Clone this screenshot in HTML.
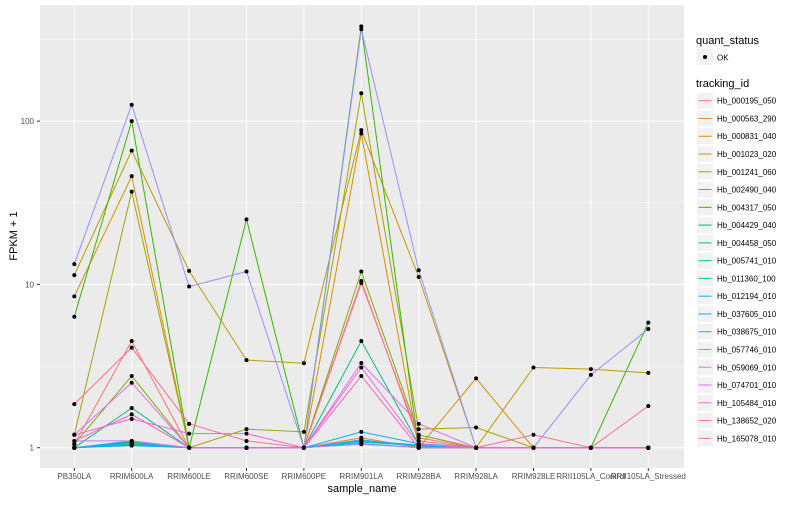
<!DOCTYPE html>
<html><head><meta charset="utf-8">
<style>
body{margin:0;background:#fff;}
svg{font-family:"Liberation Sans",sans-serif;}
</style></head>
<body>
<svg id="chart" width="800" height="500" xmlns="http://www.w3.org/2000/svg">
<rect x="0" y="0" width="800" height="500" fill="#fff"/>
<rect x="40" y="5" width="644" height="463" fill="#EBEBEB"/>
<g id="grid"></g>
<g id="lines"></g>
<g id="points"></g>
<g id="axes"></g>
<g id="legend"></g>
</svg>
<script>
const samples = ["PB350LA","RRIM600LA","RRIM600LE","RRIM600SE","RRIM600PE","RRIM901LA","RRIM928BA","RRIM928LA","RRIM928LE","RRII105LA_Control","RRII105LA_Stressed"];
const trackingIds = ["Hb_000195_050","Hb_000563_290","Hb_000831_040","Hb_001023_020","Hb_001241_060","Hb_002490_040","Hb_004317_050","Hb_004429_040","Hb_004458_050","Hb_005741_010","Hb_011360_100","Hb_012194_010","Hb_037605_010","Hb_038675_010","Hb_057746_010","Hb_059069_010","Hb_074701_010","Hb_105484_010","Hb_138652_020","Hb_165078_010"];
const colors = ["#F8766D","#EA8331","#D89000","#C09B00","#A3A500","#7CAE00","#39B600","#00BB4E","#00BF7D","#00C1A3","#00BFC4","#00BAE0","#00B0F6","#35A2FF","#9590FF","#C77CFF","#E76BF3","#FA62DB","#FF62BC","#FF6C91"];
const s000195 = [1.05,4.5,1,1,1,10.5,1.1,1,1,1,1];
const s000563 = [1,1.05,1,1,1,1.15,1,1,1,1,1];
const s000831 = [8.45,46,1,1,1,84,1,2.66,1,1,1];
const s001023 = [11.4,66,12.1,3.44,3.29,88,11.1,1,3.1,3.03,2.87];
const s001241 = [1.2,37,1,1.3,1.25,148,1.3,1.33,1,1,1];
const s002490 = [1.05,2.75,1,1,1,12,1.2,1,1,1,1];
const s004317 = [6.34,100,1,25,1,380,1,1,1,1,5.83];
const s004429 = [1,1.08,1,1,1,1.1,1.02,1,1,1,1];
const s004458 = [1,1.75,1,1,1,4.5,1.05,1,1,1,1];
const s005741 = [1,1.04,1,1,1,1.06,1,1,1,1,1];
const s011360 = [1,1.06,1,1,1,1.08,1.03,1,1,1,1];
const s012194 = [1,1.03,1,1,1,1.1,1.04,1,1,1,1];
const s037605 = [1,1.1,1,1,1,1.25,1.06,1,1,1,1];
const s038675 = [1,1.07,1,1,1,1.12,1.02,1,1,1,1];
const s057746 = [13.3,126,9.7,12,1,365,12.2,1,1,2.79,5.33];
const s059069 = [1.1,1.1,1,1,1,1.05,1,1,1,1,1];
const s074701 = [1.2,2.5,1,1,1,3.3,1.4,1,1,1,1];
const s105484 = [1.2,1.5,1.22,1.22,1,3.1,1.05,1,1,1,1];
const s138652 = [1.1,1.6,1,1,1,2.75,1,1,1,1,1];
const s165078 = [1.85,4.1,1.4,1.1,1,10.2,1.15,1,1.2,1,1.8];
const series = [s000195,s000563,s000831,s001023,s001241,s002490,s004317,s004429,s004458,s005741,s011360,s012194,s037605,s038675,s057746,s059069,s074701,s105484,s138652,s165078];
const yBreaks = [1,10,100];
const yMinor = [3.162,31.62,316.2];

const NS="http://www.w3.org/2000/svg";
function mk(tag,attrs,parent){const e=document.createElementNS(NS,tag);for(const k in attrs)e.setAttribute(k,attrs[k]);parent.appendChild(e);return e;}
function xScale(i){return 74.3+i*57.4;}
function yScale(v){return 447.7-Math.log10(v)*163.3;}
const grid=document.getElementById('grid'),lines=document.getElementById('lines'),pts=document.getElementById('points'),axes=document.getElementById('axes'),leg=document.getElementById('legend');

yMinor.forEach(v=>{const l=mk('line',{x1:40,x2:684,y1:yScale(v),y2:yScale(v),stroke:'#fff','stroke-width':0.5},grid);

});
yBreaks.forEach(v=>{const l=mk('line',{x1:40,x2:684,y1:yScale(v),y2:yScale(v),stroke:'#fff','stroke-width':1},grid);


mk('line',{x1:37,x2:40,y1:yScale(v),y2:yScale(v),stroke:'#333','stroke-width':1},axes);
const t=mk('text',{x:34,y:yScale(v)+3,'text-anchor':'end','font-size':8,fill:'#4D4D4D'},axes);t.textContent=v;

});
samples.forEach((s,i)=>{const x=xScale(i);const l=mk('line',{x1:x,x2:x,y1:5,y2:468,stroke:'#fff','stroke-width':1},grid);


mk('line',{x1:x,x2:x,y1:468,y2:471,stroke:'#333','stroke-width':1},axes);
const t=mk('text',{x:x,y:479,'text-anchor':'middle','font-size':8,fill:'#4D4D4D'},axes);t.textContent=s;

});

series.forEach((vals,k)=>{
 const d=vals.map((v,i)=>(i?'L':'M')+xScale(i).toFixed(1)+','+yScale(v).toFixed(1)).join(' ');
 const p=mk('path',{d:d,fill:'none',stroke:colors[k],'stroke-width':1},lines);
 
 
 vals.forEach((v,i)=>{const c=mk('circle',{cx:xScale(i),cy:yScale(v),r:2,fill:'#000'},pts);
 
 });
});

let t=mk('text',{x:362,y:492,'text-anchor':'middle','font-size':11,fill:'#000'},axes);t.textContent='sample_name';


t=mk('text',{x:0,y:0,'text-anchor':'middle','font-size':11,fill:'#000',transform:'translate(17,236) rotate(-90)'},axes);t.textContent='FPKM + 1';



t=mk('text',{x:696,y:44,'font-size':11,fill:'#000'},leg);t.textContent='quant_status';


let r=mk('rect',{x:697,y:49,width:16,height:16,fill:'#F2F2F2'},leg);


mk('circle',{cx:705,cy:57,r:2,fill:'#000'},leg);
t=mk('text',{x:717,y:60.5,'font-size':8,fill:'#000'},leg);t.textContent='OK';


t=mk('text',{x:696,y:87,'font-size':11,fill:'#000'},leg);t.textContent='tracking_id';


trackingIds.forEach((id,k)=>{const cy=100.7+k*17.77;
 const g=mk('g',{},leg);
 
 
 mk('rect',{x:697,y:cy-8,width:16,height:16,fill:'#F2F2F2'},g);
 mk('line',{x1:698.5,x2:711.5,y1:cy,y2:cy,stroke:colors[k],'stroke-width':1},g);
 const tt=mk('text',{x:717,y:cy+3,'font-size':8,fill:'#000'},g);tt.textContent=id;});
</script>
</body></html>
